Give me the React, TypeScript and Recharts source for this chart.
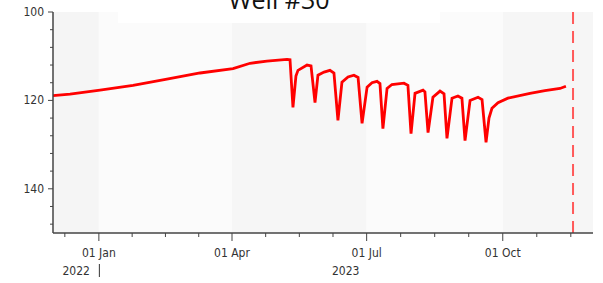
import React from 'react';
import { LineChart, Line, XAxis, YAxis, ReferenceLine, ReferenceArea } from 'recharts';

// Days counted from 01 Jan 2023
const days = [
  -31, -19.5, 0.8, 23.1, 46, 68.4, 90.7, 102.2, 113.6, 127.2, 129.2, 131.2, 133.2, 134.6,
  140.7, 143.4, 146.1, 148.1, 152.2, 156.2, 158.9, 161.6, 164.3, 168.4, 172.4, 175.2,
  177.9, 181.3, 184.6, 188, 190, 192, 194.8, 198.1, 206.2, 208.9, 211, 213.7, 219.1,
  220.4, 222.5, 225.8, 230.6, 233.3, 235.3, 238.7, 242.7, 245.4, 247.5, 250.9, 256.3,
  259, 261.7, 263.7, 265.7, 269.8, 276.5, 291.4, 301.5, 311.7, 315.7,
];
const levels = [
  118.9, 118.6, 117.7, 116.6, 115.2, 113.8, 112.8, 111.6, 111.1, 110.7, 110.8, 121.6, 114.5, 113.2,
  112.0, 112.2, 120.5, 114.3, 113.6, 113.2, 113.8, 124.5, 115.9, 114.7, 114.3, 114.8,
  125.2, 117.0, 116.0, 115.7, 116.2, 126.4, 117.3, 116.4, 116.1, 116.6, 127.5, 118.4, 117.7,
  118.1, 127.3, 119.3, 117.9, 118.5, 128.6, 119.5, 119.0, 119.5, 129.1, 120.0, 119.3,
  119.8, 129.5, 124.0, 121.8, 120.5, 119.5, 118.4, 117.8, 117.3, 116.8,
];
const data = days.map((d, i) => ({ day: d, level: levels[i] }));

const xMajorTicks = [0, 90, 181, 273];
const xMajorLabels = ['01 Jan', '01 Apr', '01 Jul', '01 Oct'];
const xMinorTicks = [-23, 22.5, 45, 67.5, 112.75, 135.5, 158.25, 204, 227, 250, 296, 319];
const yearLabels = ['2022', '2023'];
const yTicks = [100, 104, 108, 112, 116, 120, 124, 128, 132, 136, 140, 144, 148];
const yLabeled = [100, 120, 140];
const bandStarts = [-31, 0, 90, 181, 273];
const bandEnds = [0, 90, 181, 273, 334];
const bandFills = ['#f5f5f5', '#fbfbfb', '#f6f6f6', '#fbfbfb', '#f6f6f6'];
const markerDay = 320.5;
const title = 'Well #30';

const FONT = "'DejaVu Sans Condensed', 'Liberation Sans', sans-serif";
const AXIS = '#444';

const XTick = (props: any) => {
  const { x, y, payload } = props;
  const v = payload.value;
  const mi = xMajorTicks.indexOf(v);
  if (mi < 0) {
    return <line x1={x} x2={x} y1={y} y2={y + 4} stroke={AXIS} strokeWidth={1} />;
  }
  return (
    <g>
      <line x1={x} x2={x} y1={y} y2={y + 8} stroke={AXIS} strokeWidth={1} />
      <text x={x} y={y + 24} textAnchor="middle" fontSize={12} fill="#333" fontFamily={FONT}>
        {xMajorLabels[mi]}
      </text>
      {mi === 0 && (
        <g>
          <text x={x - 9} y={y + 42} textAnchor="end" fontSize={12} fill="#333" fontFamily={FONT}>
            {yearLabels[0]}
          </text>
          <line x1={x + 0.5} x2={x + 0.5} y1={y + 31} y2={y + 44} stroke="#333" strokeWidth={1} />
        </g>
      )}
      {mi === 2 && (
        <text x={x - 21} y={y + 42} textAnchor="middle" fontSize={12} fill="#333" fontFamily={FONT}>
          {yearLabels[1]}
        </text>
      )}
    </g>
  );
};

const YTick = (props: any) => {
  const { x, y, payload } = props;
  const v = payload.value;
  if (yLabeled.indexOf(v) < 0) {
    return <line x1={x - 3} x2={x} y1={y} y2={y} stroke={AXIS} strokeWidth={1} />;
  }
  return (
    <g>
      <line x1={x - 5} x2={x} y1={y} y2={y} stroke={AXIS} strokeWidth={1} />
      <text x={x - 9} y={y + 4} textAnchor="end" fontSize={12} fill="#333" fontFamily={FONT}>
        {v}
      </text>
    </g>
  );
};

export default function App() {
  return (
    <div style={{ position: 'absolute', left: 0, top: 0, width: 603, height: 283, background: '#fff' }}>
      <LineChart
        width={603}
        height={283}
        data={data}
        margin={{ top: 12, right: 10, bottom: 0, left: 0 }}
      >
        {bandStarts.map((s, i) => (
          <ReferenceArea
            key={i}
            x1={s}
            x2={bandEnds[i]}
            y1={100}
            y2={150}
            fill={bandFills[i]}
            fillOpacity={1}
            stroke="none"
            ifOverflow="visible"
          />
        ))}
        <XAxis
          type="number"
          dataKey="day"
          domain={[-31, 334]}
          allowDataOverflow
          ticks={[...xMajorTicks, ...xMinorTicks].sort((a, b) => a - b)}
          interval={0}
          tickSize={0}
          tickMargin={0}
          tickLine={false}
          tick={<XTick />}
          axisLine={{ stroke: AXIS, strokeWidth: 1.5 }}
          height={50}
        />
        <YAxis
          type="number"
          domain={[100, 150]}
          reversed
          allowDataOverflow
          ticks={yTicks}
          interval={0}
          tickSize={0}
          tickMargin={0}
          tickLine={false}
          tick={<YTick />}
          axisLine={{ stroke: AXIS, strokeWidth: 1.5 }}
          width={53}
        />
        <ReferenceLine
          x={markerDay}
          stroke="#ff5a5a"
          strokeWidth={2}
          strokeDasharray="12 7"
        />
        <Line
          type="linear"
          dataKey="level"
          stroke="#ff0000"
          strokeWidth={2.8}
          dot={false}
          isAnimationActive={false}
        />
      </LineChart>
      <svg width={603} height={24} style={{ position: 'absolute', left: 0, top: 0 }}>
        <rect x={118} y={0} width={322} height={23} fill="#fff" />
        <text x={279} y={9} textAnchor="middle" fontSize={25} fill="#111" fontFamily="'Open Sans', sans-serif">
          {title}
        </text>
      </svg>
    </div>
  );
}
